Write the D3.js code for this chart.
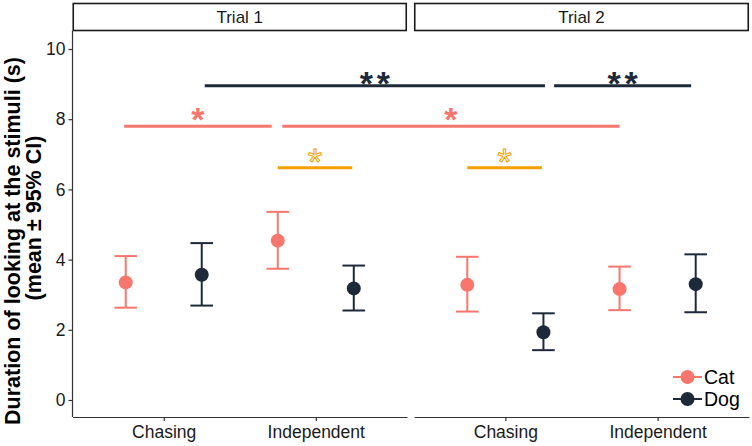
<!DOCTYPE html>
<html><head><meta charset="utf-8">
<script src="https://cdnjs.cloudflare.com/ajax/libs/d3/7.8.5/d3.min.js"></script>
<style>body{margin:0;background:#fff}svg{display:block}text{font-family:"Liberation Sans",Arial,sans-serif}</style>
</head><body><svg id="c" width="752" height="446"></svg>
<script>
// ---- data ----
const trials = ["Trial 1", "Trial 2"];
const conditions = ["Chasing", "Independent"];
const species = ["Cat", "Dog"];
// order: Trial1-Chasing, Trial1-Independent, Trial2-Chasing, Trial2-Independent
const catMean = [3.35, 4.54, 3.28, 3.16];
const catLow  = [2.63, 3.74, 2.52, 2.56];
const catHigh = [4.10, 5.36, 4.08, 3.80];
const dogMean = [3.57, 3.18, 1.93, 3.30];
const dogLow  = [2.69, 2.55, 1.42, 2.50];
const dogHigh = [4.47, 3.83, 2.47, 4.15];
const yTicks = [0, 2, 4, 6, 8, 10];
// significance annotations: [trial, position] start / end, y value, label, group
const sigStartTrial = [0, 1, 0, 0, 0, 1];
const sigStartPos   = [1.27, 1.32, 0.74, 1.78, 1.75, 0.75];
const sigEndTrial   = [1, 1, 0, 1, 0, 1];
const sigEndPos     = [1.26, 2.22, 1.71, 1.75, 2.24, 1.24];
const sigY          = [8.95, 8.95, 7.8, 7.8, 6.62, 6.62];
const sigLabel      = ["**", "**", "*", "*", "*", "*"];
const sigGroup      = ["dog", "dog", "cat", "cat", "within", "within"];

const colors = {Cat: "#F8766D", Dog: "#1E2A3A"};
const sigColors = {dog: "#1E2A3A", cat: "#F8766D", within: "#F5A000"};

const svg = d3.select("#c");
const panelTop = 31, panelBottom = 417;
const panels = [[72.5, 407], [414, 749]];
const y = d3.scaleLinear().domain([0, 10]).range([400, 49]);
const xs = panels.map(p => d3.scaleLinear().domain([0.4, 2.6]).range(p));
const dodge = 0.25;

// strips
trials.forEach((t, i) => {
  const [x0, x1] = panels[i];
  svg.append("rect").attr("x", x0 + 0.75).attr("y", 3.5).attr("width", x1 - x0 - 1.5).attr("height", 27)
    .attr("fill", "#fff").attr("stroke", "#1a1a1a").attr("stroke-width", 1.6);
  svg.append("text").attr("x", (x0 + x1) / 2).attr("y", 23).attr("text-anchor", "middle")
    .attr("font-size", 17).attr("fill", "#1a1a1a").text(t);
});

// axes
const yAxis = d3.axisLeft(y).tickValues(yTicks).tickSize(4).tickPadding(3);
const gy = svg.append("g").attr("transform", `translate(${panels[0][0]},0)`).call(yAxis);
gy.select(".domain").attr("stroke", "#333").attr("stroke-width", 1.2)
  .attr("d", `M0,${panelTop}V${panelBottom}`);
gy.selectAll(".tick line").attr("stroke", "#333").attr("stroke-width", 1.2);
gy.selectAll(".tick text").attr("font-size", 17.5).attr("fill", "#1a1a1a").attr("font-family", "Liberation Sans, Arial, sans-serif");

xs.forEach((x, i) => {
  const ax = d3.axisBottom(x).tickValues([1, 2]).tickFormat(d => conditions[d - 1]).tickSize(4).tickSizeOuter(0).tickPadding(5);
  const g = svg.append("g").attr("transform", `translate(0,${panelBottom})`).call(ax);
  g.select(".domain").attr("stroke", "#333").attr("stroke-width", 1.2);
  g.selectAll(".tick line").attr("stroke", "#333").attr("stroke-width", 1.2);
  g.selectAll(".tick text").attr("font-size", 17.5).attr("fill", "#1a1a1a").attr("font-family", "Liberation Sans, Arial, sans-serif");
});

// y title
const yt = svg.append("g").attr("font-weight", "bold").attr("font-size", 21.5).attr("fill", "#000");
yt.append("text").attr("transform", "translate(20,241) rotate(-90)").attr("text-anchor", "middle").text("Duration of looking at the stimuli (s)");
yt.append("text").attr("transform", "translate(41,218) rotate(-90)").attr("text-anchor", "middle").text("(mean \u00b1 95% CI)");

// points + error bars
const pts = [];
trials.forEach((t, ti) => conditions.forEach((c, ci) => {
  const k = ti * 2 + ci;
  pts.push({ti, pos: ci + 1 - dodge, sp: "Cat", m: catMean[k], lo: catLow[k], hi: catHigh[k]});
  pts.push({ti, pos: ci + 1 + dodge, sp: "Dog", m: dogMean[k], lo: dogLow[k], hi: dogHigh[k]});
}));
const capW = 11.3;
const gp = svg.append("g");
pts.forEach(d => {
  const cx = xs[d.ti](d.pos), col = colors[d.sp];
  const g = gp.append("g").attr("stroke", col).attr("stroke-width", 2);
  g.append("line").attr("x1", cx).attr("x2", cx).attr("y1", y(d.lo)).attr("y2", y(d.hi));
  g.append("line").attr("x1", cx - capW).attr("x2", cx + capW).attr("y1", y(d.lo)).attr("y2", y(d.lo));
  g.append("line").attr("x1", cx - capW).attr("x2", cx + capW).attr("y1", y(d.hi)).attr("y2", y(d.hi));
  gp.append("circle").attr("cx", cx).attr("cy", y(d.m)).attr("r", 7).attr("fill", col);
});

// significance
sigY.forEach((v, i) => {
  const x1 = xs[sigStartTrial[i]](sigStartPos[i]);
  const x2 = xs[sigEndTrial[i]](sigEndPos[i]);
  const col = sigColors[sigGroup[i]];
  svg.append("line").attr("x1", x1).attr("x2", x2).attr("y1", y(v)).attr("y2", y(v))
    .attr("stroke", col).attr("stroke-width", 3);
  const t = svg.append("text").attr("x", (x1 + x2) / 2).attr("text-anchor", "middle")
    .attr("font-family", "Liberation Sans, Arial, sans-serif").text(sigLabel[i]);
  if (sigGroup[i] === "within") {
    t.attr("y", y(v) + 7).attr("font-size", 36).attr("fill", "#fff").attr("stroke", col).attr("stroke-width", 1);
  } else if (sigGroup[i] === "dog") {
    t.attr("x", (x1 + x2) / 2 + 2).attr("y", y(v) + 9).attr("font-size", 34).attr("font-weight", "bold")
      .attr("fill", col).attr("letter-spacing", 4);
  } else {
    t.attr("y", y(v) + 5).attr("font-size", 34).attr("font-weight", "bold").attr("fill", col);
  }
});

// legend
const lg = svg.append("g");
species.forEach((s, i) => {
  const ly = 377 + i * 22;
  lg.append("line").attr("x1", 673).attr("x2", 702).attr("y1", ly).attr("y2", ly).attr("stroke", colors[s]).attr("stroke-width", 2);
  lg.append("circle").attr("cx", 687.5).attr("cy", ly).attr("r", 7).attr("fill", colors[s]);
  lg.append("text").attr("x", 704).attr("y", ly + 7).attr("font-size", 19.5).attr("fill", "#000").text(s);
});
</script></body></html>
